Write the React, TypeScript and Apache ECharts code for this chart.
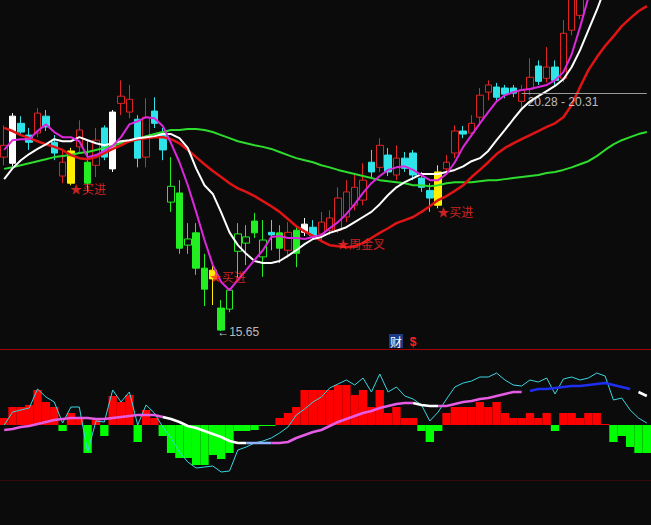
import { useEffect, useRef } from 'react';
import * as echarts from 'echarts';

// ---- daily bars: [open, close, low, high] ----
const candles: number[][] = [
  [19.05, 19.28, 18.89, 19.67], [18.93, 19.85, 18.87, 19.91], [19.71, 19.54, 19.48, 19.85], [19.48, 19.34, 19.19, 19.62],
  [19.52, 19.91, 19.44, 20.01], [19.85, 19.64, 19.56, 19.97], [19.34, 19.13, 18.99, 19.48], [18.68, 18.95, 18.54, 19.19],
  [19.17, 18.54, 18.50, 19.23], [19.25, 19.58, 19.15, 19.77], [18.95, 18.54, 18.37, 19.38], [18.89, 19.38, 18.66, 19.62],
  [19.62, 19.05, 18.99, 19.67], [18.82, 19.93, 18.76, 19.97], [20.10, 20.24, 19.87, 20.55], [19.93, 20.18, 19.81, 20.46],
  [19.79, 19.03, 18.85, 19.87], [19.05, 19.83, 18.85, 20.20], [19.95, 19.71, 19.62, 20.22], [19.52, 19.19, 18.99, 19.62],
  [18.17, 18.48, 17.98, 19.05], [18.35, 17.27, 17.16, 18.60], [17.33, 17.45, 17.16, 17.76], [17.57, 16.88, 16.75, 17.76],
  [16.88, 16.47, 16.14, 17.16], [16.84, 16.67, 16.16, 16.94], [16.10, 15.67, 15.65, 16.26], [16.08, 16.45, 16.02, 16.49],
  [17.21, 17.55, 16.69, 17.76], [17.37, 17.49, 16.94, 17.72], [17.80, 17.57, 17.47, 17.96], [17.10, 17.43, 16.71, 17.82],
  [17.58, 17.53, 17.23, 17.82], [17.57, 17.27, 16.98, 17.72], [17.23, 17.58, 17.08, 17.78], [17.62, 17.17, 16.90, 17.68],
  [17.58, 17.74, 17.51, 17.86], [17.68, 17.51, 17.43, 17.82], [17.55, 17.78, 17.43, 17.98], [17.62, 17.86, 17.53, 18.01],
  [17.62, 18.25, 17.57, 18.46], [17.88, 18.37, 17.78, 18.60], [18.11, 18.46, 18.01, 18.74], [18.21, 18.60, 18.11, 18.93],
  [18.95, 18.76, 18.66, 19.19], [18.85, 19.28, 18.76, 19.42], [19.09, 18.76, 18.68, 19.23], [18.70, 19.03, 18.60, 19.28],
  [19.03, 18.83, 18.76, 19.15], [19.13, 18.70, 18.60, 19.19], [18.64, 18.46, 18.37, 18.76], [18.40, 18.25, 17.98, 18.54],
  [18.76, 18.11, 18.05, 18.89], [18.82, 18.95, 18.70, 19.09], [19.13, 19.56, 19.03, 19.67], [19.56, 19.50, 19.42, 19.66],
  [19.52, 19.71, 19.44, 19.87], [19.83, 20.26, 19.67, 20.40], [20.32, 20.46, 20.16, 20.55], [20.42, 20.22, 20.16, 20.50],
  [20.40, 20.28, 20.20, 20.46], [20.40, 20.30, 20.22, 20.46], [20.14, 20.36, 19.97, 20.46], [20.38, 20.61, 20.26, 20.98],
  [20.83, 20.53, 20.46, 20.94], [20.59, 20.81, 20.51, 21.20], [20.81, 20.55, 20.46, 20.94], [20.59, 21.47, 20.51, 21.73],
  [21.53, 22.31, 21.43, 22.51], [21.82, 22.90, 21.75, 23.09], [22.80, 23.40, 22.60, 23.60], [23.30, 23.90, 23.10, 24.10],
  [23.80, 24.30, 23.60, 24.50], [24.20, 23.90, 23.60, 24.50], [23.90, 24.30, 23.70, 24.60], [24.30, 23.80, 23.50, 24.50],
  [23.80, 23.50, 23.20, 24.00], [23.50, 23.80, 23.30, 24.10],
];

// bar colouring flags: u = rising (hollow red), d = falling (cyan), gu/gd = weak phase (green),
// w = white signal bar, y = yellow signal bar
const candleKinds: string[] = [
  'u', 'w', 'd', 'd', 'u', 'd', 'd', 'u', 'y', 'u',
  'gd', 'u', 'd', 'w', 'u', 'u', 'd', 'u', 'd', 'd',
  'gu', 'gd', 'gu', 'gd', 'gd', 'y', 'gd', 'gu', 'gu', 'gu',
  'gd', 'gu', 'd', 'gd', 'u', 'gd', 'w', 'd', 'u', 'u',
  'u', 'u', 'u', 'u', 'd', 'u', 'd', 'u', 'd', 'd',
  'd', 'd', 'y', 'u', 'u', 'd', 'u', 'u', 'u', 'd',
  'd', 'd', 'u', 'u', 'd', 'u', 'd', 'u', 'u', 'u',
  'u', 'u', 'u', 'd', 'u', 'd', 'd', 'u',
];

const categories: string[] = candles.map((_, i) => String(i + 1));

// ---- moving averages ----
const ma5 = [
  19.19, 19.38, 19.40, 19.40, 19.56, 19.69, 19.54, 19.44, 19.44, 19.36,
  19.05, 19.09, 19.17, 19.27, 19.44, 19.69, 19.75, 19.83, 19.81, 19.66,
  19.32, 18.95, 18.50, 17.98, 17.43, 16.94, 16.61, 16.45, 16.65, 16.84,
  17.04, 17.23, 17.49, 17.51, 17.47, 17.47, 17.45, 17.49, 17.53, 17.66,
  17.78, 17.94, 18.13, 18.35, 18.54, 18.68, 18.80, 18.85, 18.87, 18.80,
  18.70, 18.60, 18.60, 18.72, 18.95, 19.25, 19.48, 19.71, 19.93, 20.14,
  20.26, 20.32, 20.36, 20.38, 20.42, 20.46, 20.55, 20.71, 21.06, 21.59,
  22.17, 22.75, 23.30, 23.80, 24.20, 24.50, 24.70, 24.80,
];
const ma10 = [
  18.62, 18.83, 18.99, 19.11, 19.21, 19.30, 19.40, 19.36, 19.36, 19.44,
  19.38, 19.32, 19.28, 19.32, 19.36, 19.38, 19.42, 19.44, 19.46, 19.50,
  19.50, 19.42, 19.23, 18.83, 18.50, 18.33, 17.97, 17.58, 17.33, 17.16,
  17.02, 16.98, 16.98, 17.02, 17.12, 17.23, 17.35, 17.45, 17.49, 17.57,
  17.62, 17.68, 17.78, 17.88, 17.98, 18.13, 18.31, 18.46, 18.56, 18.64,
  18.72, 18.72, 18.72, 18.76, 18.80, 18.87, 18.97, 19.03, 19.17, 19.38,
  19.58, 19.79, 19.99, 20.14, 20.24, 20.34, 20.44, 20.57, 20.81, 21.14,
  21.53, 21.92, 22.35, 22.75, 23.10, 23.40, 23.70, 23.95,
];
const ma20 = [
  19.62, 19.56, 19.48, 19.42, 19.36, 19.30, 19.25, 19.19, 19.09, 19.03,
  19.01, 19.05, 19.13, 19.21, 19.28, 19.36, 19.40, 19.42, 19.44, 19.44,
  19.40, 19.32, 19.19, 19.05, 18.91, 18.78, 18.66, 18.54, 18.44, 18.37,
  18.29, 18.19, 18.09, 17.98, 17.84, 17.70, 17.60, 17.51, 17.41, 17.33,
  17.31, 17.29, 17.31, 17.37, 17.47, 17.57, 17.66, 17.76, 17.82, 17.88,
  17.98, 18.09, 18.21, 18.29, 18.39, 18.50, 18.66, 18.80, 18.95, 19.11,
  19.23, 19.32, 19.40, 19.48, 19.56, 19.64, 19.71, 19.83, 20.07, 20.42,
  20.75, 21.00, 21.22, 21.41, 21.61, 21.76, 21.90, 22.00,
];
const ma60 = [
  18.82, 18.85, 18.89, 18.93, 18.97, 19.01, 19.05, 19.07, 19.09, 19.13,
  19.15, 19.19, 19.23, 19.27, 19.32, 19.36, 19.40, 19.46, 19.50, 19.54,
  19.58, 19.58, 19.60, 19.60, 19.58, 19.54, 19.48, 19.42, 19.36, 19.32,
  19.28, 19.25, 19.21, 19.15, 19.09, 19.03, 18.99, 18.95, 18.89, 18.85,
  18.80, 18.76, 18.72, 18.68, 18.64, 18.60, 18.58, 18.56, 18.54, 18.50,
  18.50, 18.48, 18.50, 18.54, 18.56, 18.56, 18.56, 18.58, 18.60, 18.60,
  18.62, 18.64, 18.66, 18.68, 18.70, 18.74, 18.76, 18.80, 18.85, 18.91,
  18.97, 19.07, 19.19, 19.30, 19.38, 19.44, 19.50, 19.54,
];

// ---- lower indicator panel ----
const macdHist = [
  0.07, 0.18, 0.18, 0.20, 0.35, 0.23, 0.18, -0.06, 0.12, 0.08,
  -0.28, 0.05, -0.11, 0.29, 0.23, 0.30, -0.17, 0.15, 0.07, -0.11,
  -0.28, -0.33, -0.33, -0.40, -0.40, -0.30, -0.34, -0.28, -0.06, -0.06,
  -0.05, -0.01, -0.01, 0.07, 0.12, 0.18, 0.35, 0.35, 0.35, 0.35,
  0.40, 0.40, 0.30, 0.35, 0.18, 0.35, 0.12, 0.18, 0.07, 0.07,
  -0.06, -0.17, -0.06, 0.12, 0.18, 0.18, 0.18, 0.23, 0.18, 0.23,
  0.12, 0.07, 0.07, 0.12, 0.07, 0.12, -0.06, 0.12, 0.12, 0.07,
  0.12, 0.12, 0.01, -0.17, -0.11, -0.22, -0.28, -0.28,
];
const dif = [
  0.00, 0.13, 0.15, 0.17, 0.36, 0.28, 0.23, 0.02, 0.18, 0.18,
  -0.27, 0.04, 0.03, 0.35, 0.23, 0.33, 0.00, 0.20, 0.12, -0.02,
  -0.13, -0.27, -0.37, -0.43, -0.42, -0.41, -0.47, -0.46, -0.25, -0.22,
  -0.18, -0.16, -0.13, -0.08, -0.02, 0.10, 0.16, 0.23, 0.28, 0.37,
  0.41, 0.45, 0.40, 0.47, 0.33, 0.51, 0.33, 0.38, 0.29, 0.26,
  0.20, 0.04, 0.13, 0.26, 0.38, 0.42, 0.44, 0.48, 0.48, 0.52,
  0.45, 0.40, 0.39, 0.45, 0.43, 0.47, 0.31, 0.46, 0.48, 0.45,
  0.47, 0.52, 0.49, 0.25, 0.27, 0.15, 0.07, 0.02,
];
const dea = [
  -0.05, -0.04, -0.02, -0.01, 0.01, 0.03, 0.05, 0.06, 0.07, 0.07,
  0.07, 0.06, 0.06, 0.07, 0.08, 0.09, 0.10, 0.10, 0.10, 0.08,
  0.06, 0.03, -0.01, -0.03, -0.06, -0.09, -0.12, -0.16, -0.18, -0.18,
  -0.18, -0.18, -0.18, -0.18, -0.17, -0.13, -0.10, -0.07, -0.05, -0.01,
  0.03, 0.06, 0.09, 0.12, 0.14, 0.17, 0.19, 0.21, 0.22, 0.22,
  0.20, 0.19, 0.19, 0.19, 0.21, 0.23, 0.24, 0.26, 0.27, 0.29,
  0.31, 0.33, 0.33, 0.34, 0.36, 0.36, 0.37, 0.38, 0.39, 0.39,
  0.40, 0.41, 0.42, 0.40, 0.38, 0.36, 0.33, 0.29,
];
// colour phases of the signal line (index ranges, inclusive)
const deaPhases = [
  { from: 0, to: 19, color: '#e45ce4' },
  { from: 19, to: 29, color: '#ffffff' },
  { from: 29, to: 32, color: '#8fb2ff' },
  { from: 32, to: 49, color: '#e45ce4' },
  { from: 49, to: 52, color: '#ffffff' },
  { from: 52, to: 62, color: '#e45ce4' },
  { from: 63, to: 75, color: '#1f2ff0' },
  { from: 76, to: 77, color: '#ffffff' },
];

// ---- chart annotations ----
const signalIdx = [8, 25, 40, 52];
const signalPrice = [18.44, 16.71, 17.37, 17.99];
const signalText = ['★买进', '★买进', '★周金叉', '★买进'];
const lowIdx = 26;
const lowPrice = 15.65;
const rangeIdx = [62, 77];
const rangePrice = 20.30;
const rangeText = '20.28 - 20.31';

const BG = '#0b0b0b';
const RED = '#e02424';
const CYAN = '#2ee4e8';
const GREEN = '#22ee22';
const YELLOW = '#ffee00';
const WHITE = '#ffffff';

const kindStyle: Record<string, { fill: string; border: string }> = {
  u: { fill: BG, border: RED },
  d: { fill: CYAN, border: CYAN },
  gu: { fill: BG, border: GREEN },
  gd: { fill: GREEN, border: GREEN },
  w: { fill: WHITE, border: WHITE },
  y: { fill: YELLOW, border: YELLOW },
};

function buildOption() {
  const candleData = candles.map((c, i) => {
    const s = kindStyle[candleKinds[i]];
    return {
      value: c,
      itemStyle: { color: s.fill, color0: s.fill, borderColor: s.border, borderColor0: s.border, borderWidth: 1 },
    };
  });

  const maLine = (data: number[], color: string, width: number) => ({
    type: 'line',
    xAxisIndex: 0,
    yAxisIndex: 0,
    data,
    symbol: 'none',
    silent: true,
    clip: true,
    lineStyle: { color, width },
  });

  const deaSeries = deaPhases.map((ph) => ({
    type: 'line',
    xAxisIndex: 1,
    yAxisIndex: 1,
    data: dea.map((v, i) => (i >= ph.from && i <= ph.to ? v : '-')),
    symbol: 'none',
    silent: true,
    lineStyle: { color: ph.color, width: 2.5 },
    z: 5,
  }));

  const textFont = { fontFamily: '"Liberation Sans", Arial, sans-serif', fontSize: 12 };

  return {
    animation: false,
    backgroundColor: BG,
    grid: [
      { left: 0, right: 0, top: 0, height: 348 },
      { left: 0, right: 0, top: 350, height: 175 },
    ],
    xAxis: [
      { type: 'category', data: categories, gridIndex: 0, show: false, boundaryGap: true },
      { type: 'category', data: categories, gridIndex: 1, show: false, boundaryGap: true },
    ],
    yAxis: [
      { type: 'value', gridIndex: 0, min: 15.32, max: 22.12, show: false, scale: true },
      { type: 'value', gridIndex: 1, min: -1.0, max: 0.75, show: false },
    ],
    graphic: [
      { type: 'line', silent: true, shape: { x1: 0, y1: 349.5, x2: 651, y2: 349.5 }, style: { stroke: '#a00000', lineWidth: 1 } },
      { type: 'line', silent: true, shape: { x1: 0, y1: 480.5, x2: 651, y2: 480.5 }, style: { stroke: '#340a0a', lineWidth: 1 } },
      { type: 'rect', silent: true, shape: { x: 389, y: 334, width: 14, height: 14 }, style: { fill: '#1b3b86' } },
      {
        type: 'text', silent: true, x: 396, y: 341,
        style: { text: '财', fill: '#ffffff', font: '12px "Noto Sans CJK SC"', align: 'center', verticalAlign: 'middle' },
      },
      {
        type: 'text', silent: true, x: 413, y: 342,
        style: { text: '$', fill: '#ff2020', font: 'bold 12px "Liberation Sans", sans-serif', align: 'center', verticalAlign: 'middle' },
      },
    ],
    series: [
      {
        type: 'candlestick',
        xAxisIndex: 0,
        yAxisIndex: 0,
        data: candleData,
        barWidth: 7,
        clip: true,
        silent: true,
        markLine: {
          silent: true,
          symbol: 'none',
          label: { show: false },
          lineStyle: { color: '#9a9a9a', width: 1, type: 'solid' },
          data: [[{ coord: [rangeIdx[0], rangePrice] }, { coord: [rangeIdx[1], rangePrice] }]],
        },
      },
      maLine(ma60, '#2edc2e', 2),
      maLine(ma20, '#e01414', 2.5),
      maLine(ma10, '#ffffff', 2),
      maLine(ma5, '#dc28dc', 2),
      {
        type: 'scatter',
        xAxisIndex: 0,
        yAxisIndex: 0,
        symbolSize: 1,
        silent: true,
        z: 10,
        itemStyle: { color: 'rgba(0,0,0,0)' },
        data: [
          ...signalIdx.map((x, k) => ({
            value: [x, signalPrice[k]],
            label: {
              formatter: signalText[k],
              color: '#ff2a2a',
              fontFamily: '"Noto Sans CJK SC", sans-serif',
              fontSize: 12,
              offset: [k === 1 ? -3 : -1, 0],
            },
          })),
          {
            value: [lowIdx, lowPrice],
            label: { formatter: '←' + lowPrice.toFixed(2), color: '#e8e8e8', offset: [-4, 1], ...textFont },
          },
          {
            value: [rangeIdx[0], rangePrice],
            label: { formatter: rangeText, color: '#e8e8e8', offset: [6, 9], ...textFont },
          },
        ],
        label: { show: true, position: 'inside', align: 'left', verticalAlign: 'middle' },
      },
      {
        type: 'bar',
        xAxisIndex: 1,
        yAxisIndex: 1,
        data: macdHist,
        barWidth: '100%',
        silent: true,
        itemStyle: { color: (p: any) => (p.value >= 0 ? '#ff0000' : '#00ff00') },
      },
      {
        type: 'line',
        xAxisIndex: 1,
        yAxisIndex: 1,
        data: dif,
        symbol: 'none',
        silent: true,
        lineStyle: { color: '#3ad6e0', width: 1 },
        z: 4,
      },
      ...deaSeries,
    ],
  };
}

export default function App() {
  const ref = useRef<HTMLDivElement>(null);
  useEffect(() => {
    if (!ref.current) return;
    const chart = echarts.init(ref.current, null, { renderer: 'svg' });
    chart.setOption(buildOption() as any);
    return () => chart.dispose();
  }, []);
  return (
    <div
      ref={ref}
      style={{ position: 'fixed', left: 0, top: 0, width: 651, height: 525, background: BG }}
    />
  );
}
